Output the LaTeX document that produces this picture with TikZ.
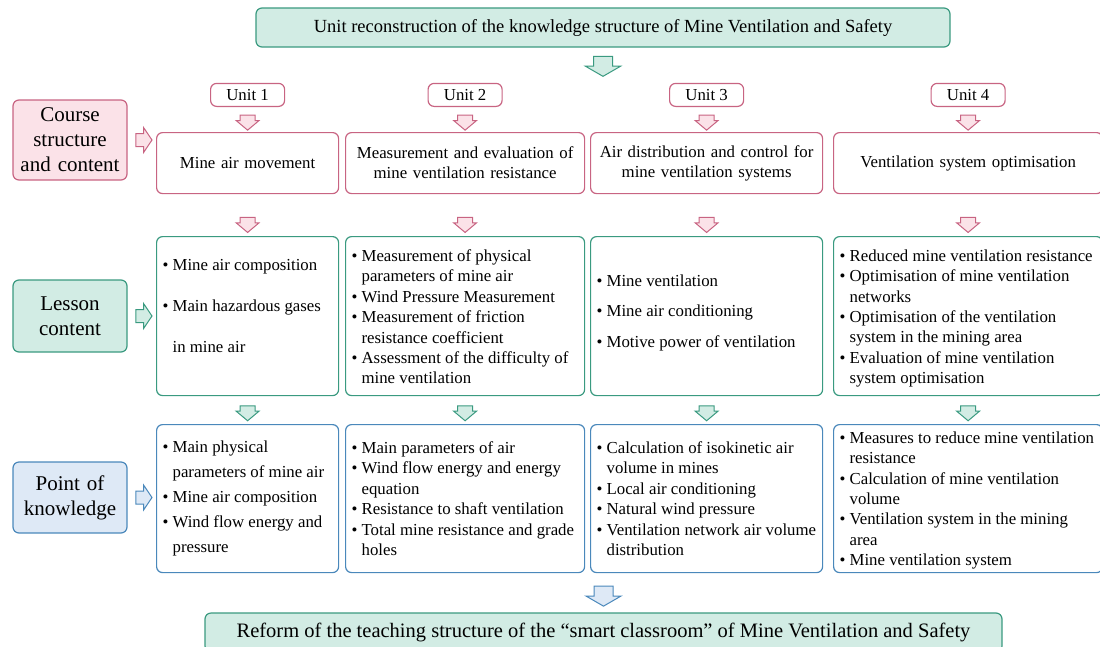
\documentclass[tikz,border=0pt]{standalone}
\usepackage{fontspec}
\setmainfont{Liberation Serif}
\usetikzlibrary{shapes.arrows,calc,positioning}
\definecolor{pinkline}{RGB}{200,100,130}
\definecolor{pinkfill}{RGB}{251,226,232}
\definecolor{tealline}{RGB}{58,154,128}
\definecolor{tealfill}{RGB}{210,236,228}
\definecolor{blueline}{RGB}{74,136,187}
\definecolor{bluefill}{RGB}{222,233,246}
\newcommand{\itm}[1]{\par\hangindent=10pt\hangafter=1\noindent\makebox[10pt][l]{\textbullet}#1}
\newcommand{\cellbox}[4]{\parbox[c][#1][t]{#2}{\raggedright\vspace*{#3}#4}}

\begin{document}
\begin{tikzpicture}[x=1pt,y=-1pt,
    every node/.style={inner sep=0pt},
    hdr/.style={draw=#1line,fill=#1fill,rounded corners=6pt,line width=1.2pt,align=center},
    unit/.style={draw=pinkline,rounded corners=6pt,line width=1.2pt,minimum width=74pt,minimum height=23pt,font=\fontsize{16.8}{20}\selectfont},
    topic/.style={draw=pinkline,rounded corners=6pt,line width=1.2pt,anchor=north west,inner xsep=6pt,minimum height=61pt,align=center,font=\fontsize{16.8}{20}\selectfont},
    cell/.style={draw=#1line,rounded corners=6pt,line width=1.2pt,anchor=north west,inner xsep=6pt,font=\fontsize{16.8}{20.4}\selectfont},
    darr/.style={single arrow,draw=#1line,fill=#1fill,line width=1pt,shape border rotate=270,inner xsep=7pt,inner ysep=0pt,minimum height=15pt,single arrow head extend=4pt,single arrow tip angle=100},
    bigarr/.style={darr=#1,inner xsep=9pt,minimum height=20pt,single arrow head extend=8pt,single arrow tip angle=120},
    rarr/.style={darr=#1,shape border rotate=0,inner xsep=0pt,inner ysep=6pt,minimum height=16pt,single arrow head extend=6pt,single arrow tip angle=112}]
    \path[use as bounding box,clip] (0,0) rectangle (1100,646);

    \node[hdr=teal,minimum width=694pt,minimum height=39pt,font=\fontsize{18.5}{22}\selectfont] (title) at (603,27.5)
        {Unit reconstruction of the knowledge structure of Mine Ventilation and Safety};
    \node[hdr=pink,text width=102pt,inner xsep=6pt,minimum height=80pt,font=\fontsize{21}{25}\selectfont] (course) at (70,140) {Course\\structure\\and content};
    \node[hdr=teal,text width=102pt,inner xsep=6pt,minimum height=72pt,font=\fontsize{21}{25}\selectfont] (lesson) at (70,316) {Lesson\\content};
    \node[hdr=blue,text width=102pt,inner xsep=6pt,minimum height=71pt,font=\fontsize{21}{25}\selectfont] (point) at (70,497.5) {Point of\\knowledge};

    \node[topic,text width=170pt] (t1) at (156,132) {Mine air movement};
    \node[topic,text width=227pt] (t2) at (345,132) {Measurement and evaluation of\\mine ventilation resistance};
    \node[topic,text width=220pt] (t3) at (590,132) {Air distribution and control for\\mine ventilation systems};
    \node[topic,text width=257pt] (t4) at (833,132) {Ventilation system optimisation};

    \node[unit,above=25pt of t1] (u1) {Unit 1};
    \node[unit,above=25pt of t2] (u2) {Unit 2};
    \node[unit,above=25pt of t3] (u3) {Unit 3};
    \node[unit,above=25pt of t4] (u4) {Unit 4};

    \node[cell=teal,font=\fontsize{16.8}{41}\selectfont] (l1) at (156,236) {\cellbox{159pt}{170pt}{23pt}{%
        \itm{Mine air composition}
        \itm{Main hazardous gases\newline in mine air}}};
    \node[cell=teal] (l2) at (345,236) {\cellbox{159pt}{227pt}{13pt}{%
        \itm{Measurement of physical\newline parameters of mine air}
        \itm{Wind Pressure Measurement}
        \itm{Measurement of friction\newline resistance coefficient}
        \itm{Assessment of the difficulty of\newline mine ventilation}}};
    \node[cell=teal,font=\fontsize{16.8}{30.5}\selectfont] (l3) at (590,236) {\cellbox{159pt}{220pt}{38pt}{%
        \itm{Mine ventilation}
        \itm{Mine air conditioning}
        \itm{Motive power of ventilation}}};
    \node[cell=teal] (l4) at (833,236) {\cellbox{159pt}{257pt}{13pt}{%
        \itm{Reduced mine ventilation resistance}
        \itm{Optimisation of mine ventilation\newline networks}
        \itm{Optimisation of the ventilation\newline system in the mining area}
        \itm{Evaluation of mine ventilation\newline system optimisation}}};

    \node[cell=blue,font=\fontsize{16.8}{25}\selectfont] (k1) at (156,424) {\cellbox{148pt}{170pt}{16pt}{%
        \itm{Main physical\newline parameters of mine air}
        \itm{Mine air composition}
        \itm{Wind flow energy and\newline pressure}}};
    \node[cell=blue] (k2) at (345,424) {\cellbox{148pt}{227pt}{17pt}{%
        \itm{Main parameters of air}
        \itm{Wind flow energy and energy\newline equation}
        \itm{Resistance to shaft ventilation}
        \itm{Total mine resistance and grade\newline holes}}};
    \node[cell=blue] (k3) at (590,424) {\cellbox{148pt}{220pt}{17pt}{%
        \itm{Calculation of isokinetic air\newline volume in mines}
        \itm{Local air conditioning}
        \itm{Natural wind pressure}
        \itm{Ventilation network air volume\newline distribution}}};
    \node[cell=blue] (k4) at (833,424) {\cellbox{148pt}{257pt}{7pt}{%
        \itm{Measures to reduce mine ventilation\newline resistance}
        \itm{Calculation of mine ventilation\newline volume}
        \itm{Ventilation system in the mining\newline area}
        \itm{Mine ventilation system}}};

    \node[hdr=teal,minimum width=797pt,minimum height=39pt,font=\fontsize{20.5}{24}\selectfont] (reform) at (603.5,632.5)
        {Reform of the teaching structure of the “smart classroom” of Mine Ventilation and Safety};

    \node[bigarr=teal] (a0) at ($(title.south)+(0,16)$) {};
    \node[bigarr=blue] (a5) at ($(reform.north)+(0,-19)$) {};

    \node[rarr=pink] (h1) at ($(course.east)!.5!(course.east-|t1.west)$) {};
    \node[rarr=teal] (h2) at ($(lesson.east)!.5!(lesson.east-|l1.west)$) {};
    \node[rarr=blue] (h3) at ($(point.east)!.5!(point.east-|k1.west)$) {};

    \node[darr=pink] (p1) at ($(u1.south)!.5!(t1.north)$) {};
    \node[darr=pink] (p2) at ($(u2.south)!.5!(t2.north)$) {};
    \node[darr=pink] (p3) at ($(u3.south)!.5!(t3.north)$) {};
    \node[darr=pink] (p4) at ($(u4.south)!.5!(t4.north)$) {};

    \node[darr=pink] (q1) at ($(t1.south)!.66!(l1.north)$) {};
    \node[darr=pink] (q2) at ($(t2.south)!.66!(l2.north)$) {};
    \node[darr=pink] (q3) at ($(t3.south)!.66!(l3.north)$) {};
    \node[darr=pink] (q4) at ($(t4.south)!.66!(l4.north)$) {};

    \node[darr=teal] (s1) at ($(l1.south)!.5!(k1.north)$) {};
    \node[darr=teal] (s2) at ($(l2.south)!.5!(k2.north)$) {};
    \node[darr=teal] (s3) at ($(l3.south)!.5!(k3.north)$) {};
    \node[darr=teal] (s4) at ($(l4.south)!.5!(k4.north)$) {};
\end{tikzpicture}
\end{document}
